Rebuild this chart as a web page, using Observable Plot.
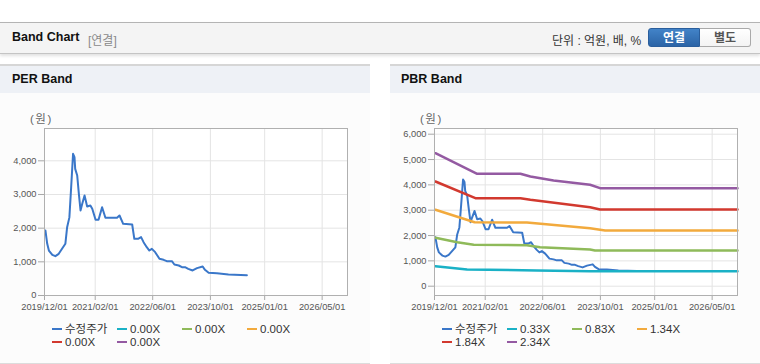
<!DOCTYPE html>
<html>
<head>
<meta charset="utf-8">
<script src="https://cdn.jsdelivr.net/npm/d3@7"></script>
<script src="https://cdn.jsdelivr.net/npm/@observablehq/plot@0.6"></script>
<style>
  html, body { margin: 0; padding: 0; background: #fff; }
  body { width: 760px; height: 364px; position: relative; overflow: hidden; font-family: "Liberation Sans", Arial, "Noto Sans CJK KR", sans-serif; }
  .abs { position: absolute; }
  .topbar { left: 0; top: 22px; width: 760px; height: 30px; background: #f4f4f4; border-top: 1px solid #b4b4b4; border-bottom: 1px solid #c4c4c4; box-shadow: 0 2px 3px rgba(0,0,0,0.12); }
  .title { font-weight: bold; font-size: 12.5px; color: #111; }
  .panel { top: 64px; width: 370px; height: 297px; background: #fcfcfc; border-top: 2px solid #d6d6d6; border-bottom: 2px solid #dcdcdc; }
  .panelhead { left: 0; top: 0; width: 370px; height: 27px; background: #eef1f6; }
  .btn { top: 28px; height: 19px; width: 50px; font-size: 12px; font-weight: bold; text-align: center; line-height: 19px; box-sizing: border-box; }
  .unit { font-size: 11.5px; color: #666; letter-spacing: 1.5px; }
  .legend { font-size: 11.5px; color: #333; white-space: nowrap; line-height: 13px; }
  .legend .sw { display: inline-block; width: 10px; height: 2.5px; vertical-align: middle; margin-right: 3px; position: relative; top: -1px; }
</style>
</head>
<body>
<div class="abs topbar"></div>
<div class="abs title" style="left:12px; top:30px;">Band Chart</div>
<div class="abs" style="left:88px; top:31px; font-size:12px; color:#8a8a8a;">[연결]</div>
<div class="abs" style="left:552px; top:31px; font-size:12px; color:#333;">단위 : 억원, 배, %</div>
<div class="abs btn" style="left:648px; width:52px; color:#fff; background:linear-gradient(#4283c8,#2b64a6); border:1px solid #2a5e9c; border-radius:3px 0 0 3px;">연결</div>
<div class="abs btn" style="left:700px; width:51px; color:#555; background:linear-gradient(#ffffff,#f3f3f3); border:1px solid #a9a9a9; border-left:none; border-radius:0 3px 3px 0;">별도</div>

<div class="abs panel" style="left:0;"><div class="abs panelhead"></div></div>
<div class="abs panel" style="left:390px;"><div class="abs panelhead"></div></div>
<div class="abs title" style="left:12px; top:72px;">PER Band</div>
<div class="abs title" style="left:401px; top:72px;">PBR Band</div>
<div class="abs unit" style="left:30px; top:110px;">(원)</div>
<div class="abs unit" style="left:420px; top:110px;">(원)</div>

<div id="chartL" class="abs" style="left:0; top:110px;"></div>
<div id="chartR" class="abs" style="left:390px; top:110px;"></div>
<div id="legendL"></div>
<div id="legendR"></div>

<script>
// ---- data ----
const xTickLabels = ["2019/12/01", "2021/02/01", "2022/06/01", "2023/10/01", "2025/01/01", "2026/05/01"];
const xDomain = ["2019-12-01", "2026-12-01"];

const priceDates = ["2019-12-09","2019-12-24","2020-01-07","2020-02-05","2020-03-02","2020-03-30","2020-05-25","2020-06-09","2020-06-28","2020-07-13","2020-07-29","2020-08-10","2020-08-16","2020-09-02","2020-09-16","2020-09-30","2020-10-14","2020-11-03","2020-11-25","2020-12-22","2021-01-07","2021-02-04","2021-03-01","2021-03-31","2021-04-28","2021-08-04","2021-08-25","2021-09-25","2021-12-10","2021-12-28","2022-01-28","2022-02-23","2022-03-16","2022-04-12","2022-05-04","2022-05-25","2022-06-22","2022-07-28","2022-09-01","2022-09-28","2022-11-10","2022-12-01","2023-01-07","2023-02-03","2023-03-01","2023-03-28","2023-05-04","2023-06-10","2023-07-28","2023-08-16","2023-09-16","2023-11-25","2024-03-01","2024-08-04"];
const priceValues = [1930,1535,1336,1208,1168,1238,1535,2030,2320,3217,4208,4110,3762,3564,3020,2525,2720,2970,2643,2673,2574,2248,2248,2623,2307,2307,2376,2129,2109,1683,1683,1733,1584,1435,1336,1386,1287,1089,1059,1020,1020,921,891,842,842,792,743,812,862,762,673,663,624,604];

const band033 = [["2019-12-09",790],["2020-09-01",659],["2022-04-12",620],["2023-07-06",588],["2026-12-01",588]];
const band083 = [["2019-12-09",1910],["2020-06-10",1737],["2020-10-27",1634],["2022-01-19",1620],["2022-05-10",1540],["2023-07-06",1449],["2023-08-16",1409],["2026-12-01",1409]];
const band134 = [["2019-12-09",3016],["2020-11-03",2527],["2022-01-19",2510],["2023-07-06",2290],["2023-11-10",2199],["2026-12-01",2199]];
const band184 = [["2019-12-09",4133],["2020-11-10",3474],["2021-11-25",3474],["2022-02-17",3411],["2023-07-06",3119],["2023-09-28",3028],["2026-12-01",3028]];
const band234 = [["2019-12-09",5250],["2020-11-25",4437],["2021-11-25",4437],["2022-02-17",4330],["2022-09-01",4172],["2023-07-06",4003],["2023-09-28",3870],["2026-12-01",3865]];

const seriesColors = ["#3a77c9", "#1ab1c6", "#8fba5a", "#f2aa3d", "#d2392f", "#945aa2"];
const legendLabelsL = ["수정주가", "0.00X", "0.00X", "0.00X", "0.00X", "0.00X"];
const legendLabelsR = ["수정주가", "0.33X", "0.83X", "1.34X", "1.84X", "2.34X"];

const yTicksL = [0, 1000, 2000, 3000, 4000];
const yTicksR = [0, 1000, 2000, 3000, 4000, 5000, 6000];

// ---- build ----
const parse = d3.utcParse("%Y-%m-%d");
const parseTick = d3.utcParse("%Y/%m/%d");
const xTicks = xTickLabels.map(parseTick);
const price = priceDates.map((d, i) => ({date: parse(d), value: priceValues[i]}));
const bandsR = [band033, band083, band134, band184, band234].map(b => b.map(([d, v]) => ({date: parse(d), value: v})));

function chart(yDomain, yTicks, bands) {
  const bandMarks = bands.map((b, i) => Plot.line(b, {x: "date", y: "value", stroke: seriesColors[i + 1], strokeWidth: 2.5}));
  return Plot.plot({
    width: 370, height: 210,
    marginTop: 18, marginBottom: 25, marginLeft: 44, marginRight: 23,
    style: {fontFamily: "'Liberation Sans', Arial, sans-serif", fontSize: "9.3px", color: "#555", background: "transparent", overflow: "visible"},
    x: {type: "utc", domain: xDomain.map(parse)},
    y: {domain: yDomain},
    marks: [
      Plot.frame({fill: "#ffffff", stroke: "none"}),
      Plot.gridX(xTicks, {stroke: "#e4e4e4", strokeOpacity: 1}),
      Plot.gridY(yTicks, {stroke: "#e4e4e4", strokeOpacity: 1}),
      Plot.axisX(xTicks, {tickFormat: d3.utcFormat("%Y/%m/%d"), tickSize: 5, tickPadding: 3, stroke: "#a8a8a8", fill: "#555", label: null}),
      Plot.axisY(yTicks, {tickFormat: d3.format(","), tickSize: 6, tickPadding: 2, stroke: "#a8a8a8", fill: "#555", label: null}),
      Plot.line(price, {x: "date", y: "value", stroke: seriesColors[0], strokeWidth: 2}),
      ...bandMarks,
      Plot.frame({stroke: "#b0b0b0", strokeWidth: 1})
    ]
  });
}

document.getElementById("chartL").append(chart([0, 4960], yTicksL, []));
document.getElementById("chartR").append(chart([-367, 6225], yTicksR, bandsR));

function legend(id, labels, offset) {
  const root = document.getElementById(id);
  labels.forEach((lab, i) => {
    const el = document.createElement("div");
    el.className = "abs legend";
    el.style.left = (offset + 52 + (i % 4) * 65) + "px";
    el.style.top = (323 + Math.floor(i / 4) * 13) + "px";
    el.innerHTML = `<span class="sw" style="background:${seriesColors[i]}"></span>${lab}`;
    root.append(el);
  });
}
legend("legendL", legendLabelsL, 0);
legend("legendR", legendLabelsR, 390);
</script>
</body>
</html>
